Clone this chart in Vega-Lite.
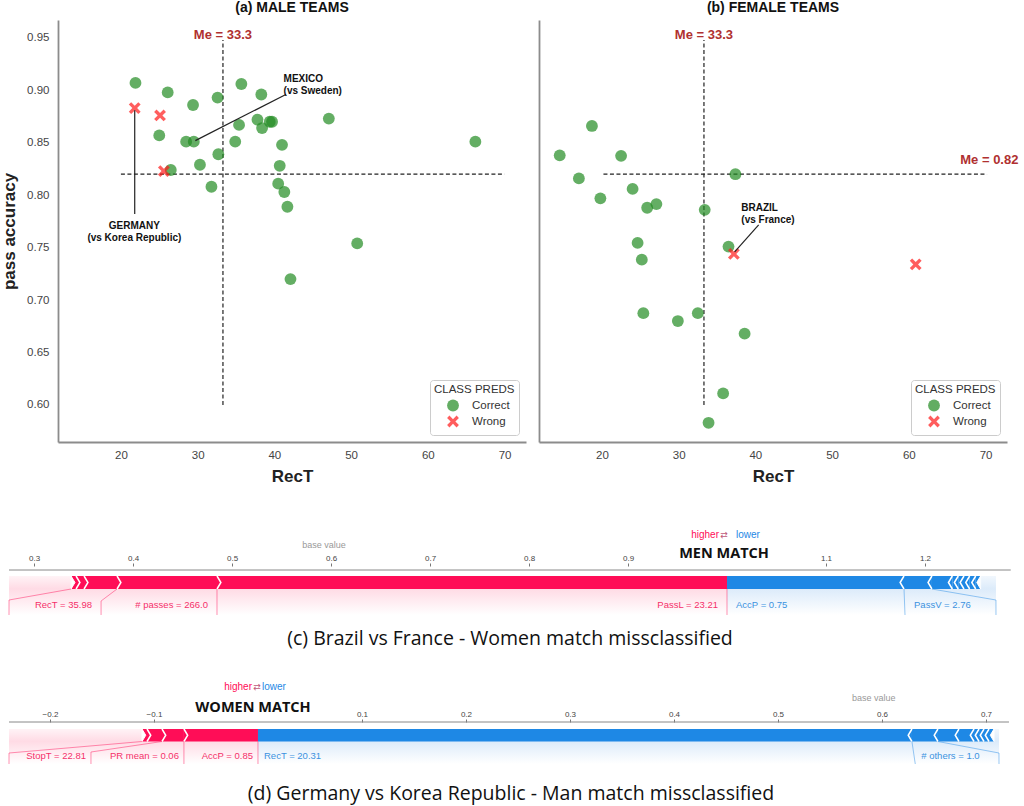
{
  "$schema": "https://vega.github.io/schema/vega-lite/v6.json",
  "padding": {"top": 1, "left": 0, "right": 0, "bottom": 0},
  "background": "white",
  "spacing": 0,
  "config": {"view": {"stroke": null}, "font": "Liberation Sans", "axis": {"grid": false}},
  "datasets": {
    "male": [
      {"RecT": 21.9, "acc": 0.907, "pred": "Correct"},
      {"RecT": 26.1, "acc": 0.898, "pred": "Correct"},
      {"RecT": 29.4, "acc": 0.886, "pred": "Correct"},
      {"RecT": 32.6, "acc": 0.893, "pred": "Correct"},
      {"RecT": 35.7, "acc": 0.906, "pred": "Correct"},
      {"RecT": 38.3, "acc": 0.896, "pred": "Correct"},
      {"RecT": 35.4, "acc": 0.867, "pred": "Correct"},
      {"RecT": 37.8, "acc": 0.872, "pred": "Correct"},
      {"RecT": 38.4, "acc": 0.864, "pred": "Correct"},
      {"RecT": 39.4, "acc": 0.870, "pred": "Correct"},
      {"RecT": 39.7, "acc": 0.870, "pred": "Correct"},
      {"RecT": 47.1, "acc": 0.873, "pred": "Correct"},
      {"RecT": 66.2, "acc": 0.851, "pred": "Correct"},
      {"RecT": 25.0, "acc": 0.857, "pred": "Correct"},
      {"RecT": 28.5, "acc": 0.851, "pred": "Correct"},
      {"RecT": 29.5, "acc": 0.851, "pred": "Correct"},
      {"RecT": 34.9, "acc": 0.851, "pred": "Correct"},
      {"RecT": 41.0, "acc": 0.848, "pred": "Correct"},
      {"RecT": 32.7, "acc": 0.839, "pred": "Correct"},
      {"RecT": 30.3, "acc": 0.829, "pred": "Correct"},
      {"RecT": 26.5, "acc": 0.824, "pred": "Correct"},
      {"RecT": 40.7, "acc": 0.828, "pred": "Correct"},
      {"RecT": 31.8, "acc": 0.808, "pred": "Correct"},
      {"RecT": 40.5, "acc": 0.811, "pred": "Correct"},
      {"RecT": 41.3, "acc": 0.803, "pred": "Correct"},
      {"RecT": 41.7, "acc": 0.789, "pred": "Correct"},
      {"RecT": 50.8, "acc": 0.754, "pred": "Correct"},
      {"RecT": 42.1, "acc": 0.720, "pred": "Correct"},
      {"RecT": 21.8, "acc": 0.883, "pred": "Wrong"},
      {"RecT": 25.1, "acc": 0.876, "pred": "Wrong"},
      {"RecT": 25.6, "acc": 0.823, "pred": "Wrong"}
    ],
    "female": [
      {"RecT": 18.7, "acc": 0.866, "pred": "Correct"},
      {"RecT": 14.5, "acc": 0.838, "pred": "Correct"},
      {"RecT": 22.5, "acc": 0.8375, "pred": "Correct"},
      {"RecT": 17.0, "acc": 0.816, "pred": "Correct"},
      {"RecT": 37.4, "acc": 0.820, "pred": "Correct"},
      {"RecT": 24.0, "acc": 0.806, "pred": "Correct"},
      {"RecT": 19.8, "acc": 0.797, "pred": "Correct"},
      {"RecT": 25.9, "acc": 0.788, "pred": "Correct"},
      {"RecT": 27.1, "acc": 0.7915, "pred": "Correct"},
      {"RecT": 33.4, "acc": 0.786, "pred": "Correct"},
      {"RecT": 24.65, "acc": 0.7545, "pred": "Correct"},
      {"RecT": 36.5, "acc": 0.751, "pred": "Correct"},
      {"RecT": 25.2, "acc": 0.7385, "pred": "Correct"},
      {"RecT": 25.4, "acc": 0.6875, "pred": "Correct"},
      {"RecT": 29.9, "acc": 0.680, "pred": "Correct"},
      {"RecT": 32.5, "acc": 0.6875, "pred": "Correct"},
      {"RecT": 38.6, "acc": 0.668, "pred": "Correct"},
      {"RecT": 35.8, "acc": 0.611, "pred": "Correct"},
      {"RecT": 33.9, "acc": 0.583, "pred": "Correct"},
      {"RecT": 37.2, "acc": 0.744, "pred": "Wrong"},
      {"RecT": 60.9, "acc": 0.734, "pred": "Wrong"}
    ],
    "cSeg": [
      {"a": 0.3374, "b": 0.3424, "side": "higher"},
      {"a": 0.3424, "b": 0.3505, "side": "higher"},
      {"a": 0.3505, "b": 0.3838, "side": "higher"},
      {"a": 0.3838, "b": 0.4848, "side": "higher"},
      {"a": 0.4848, "b": 1.0, "side": "higher"},
      {"a": 1.0, "b": 1.1788, "side": "lower"},
      {"a": 1.1788, "b": 1.207, "side": "lower"},
      {"a": 1.207, "b": 1.2276, "side": "lower"},
      {"a": 1.2276, "b": 1.2336, "side": "lower"},
      {"a": 1.2336, "b": 1.2394, "side": "lower"},
      {"a": 1.2394, "b": 1.2451, "side": "lower"},
      {"a": 1.2451, "b": 1.2512, "side": "lower"},
      {"a": 1.2512, "b": 1.2562, "side": "lower"}
    ],
    "cConn": [
      {"x": 0.3374, "y": 100, "x2": 0.2747, "y2": 111, "side": "higher"},
      {"x": 0.2747, "y": 111, "x2": 0.2747, "y2": 126, "side": "higher"},
      {"x": 0.3838, "y": 100, "x2": 0.3677, "y2": 112, "side": "higher"},
      {"x": 0.3677, "y": 112, "x2": 0.3677, "y2": 126, "side": "higher"},
      {"x": 0.4848, "y": 100, "x2": 0.4848, "y2": 126, "side": "higher"},
      {"x": 1.0, "y": 100, "x2": 1.0, "y2": 126, "side": "higher"},
      {"x": 1.1788, "y": 100, "x2": 1.1798, "y2": 126, "side": "lower"},
      {"x": 1.207, "y": 100, "x2": 1.2717, "y2": 111, "side": "lower"},
      {"x": 1.2717, "y": 111, "x2": 1.2717, "y2": 126, "side": "lower"}
    ],
    "cLab": [
      {"t": "RecT = 35.98", "v": 0.3677, "side": "higher"},
      {"t": "# passes = 266.0", "v": 0.4848, "side": "higher"},
      {"t": "PassL = 23.21", "v": 1.0, "side": "higher"},
      {"t": "AccP = 0.75", "v": 1.0, "side": "lower"},
      {"t": "PassV = 2.76", "v": 1.1798, "side": "lower"}
    ],
    "dSeg": [
      {"a": -0.1115, "b": -0.1067, "side": "higher"},
      {"a": -0.1067, "b": -0.0923, "side": "higher"},
      {"a": -0.0923, "b": -0.0712, "side": "higher"},
      {"a": -0.0712, "b": 0.0, "side": "higher"},
      {"a": 0.0, "b": 0.6288, "side": "lower"},
      {"a": 0.6288, "b": 0.6538, "side": "lower"},
      {"a": 0.6538, "b": 0.674, "side": "lower"},
      {"a": 0.674, "b": 0.6885, "side": "lower"},
      {"a": 0.6885, "b": 0.6933, "side": "lower"},
      {"a": 0.6933, "b": 0.6981, "side": "lower"},
      {"a": 0.6981, "b": 0.7029, "side": "lower"},
      {"a": 0.7029, "b": 0.7077, "side": "lower"}
    ],
    "dConn": [
      {"x": -0.1115, "y": 80.5, "x2": -0.2394, "y2": 92, "side": "higher"},
      {"x": -0.2394, "y": 92, "x2": -0.2394, "y2": 103, "side": "higher"},
      {"x": -0.0923, "y": 80.5, "x2": -0.1606, "y2": 91, "side": "higher"},
      {"x": -0.1606, "y": 91, "x2": -0.1606, "y2": 103, "side": "higher"},
      {"x": -0.0712, "y": 80.5, "x2": -0.0712, "y2": 103, "side": "higher"},
      {"x": 0.0, "y": 80.5, "x2": 0.0, "y2": 103, "side": "higher"},
      {"x": 0.6288, "y": 80.5, "x2": 0.632, "y2": 103, "side": "lower"},
      {"x": 0.6538, "y": 80.5, "x2": 0.7125, "y2": 92, "side": "lower"},
      {"x": 0.7125, "y": 92, "x2": 0.7125, "y2": 103, "side": "lower"}
    ],
    "dLab": [
      {"t": "StopT = 22.81", "v": -0.1606, "side": "higher"},
      {"t": "PR mean = 0.06", "v": -0.0712, "side": "higher"},
      {"t": "AccP = 0.85", "v": 0.0, "side": "higher"},
      {"t": "RecT = 20.31", "v": 0.0, "side": "lower"},
      {"t": "# others = 1.0", "v": 0.632, "side": "lower"}
    ]
  },
  "resolve": {"scale": {"x": "independent", "y": "independent", "color": "independent"}},
  "vconcat": [
    {
      "spacing": 13,
      "resolve": {
        "scale": {"x": "independent", "y": "independent", "color": "independent", "shape": "independent"},
        "legend": {"color": "independent", "shape": "independent"}
      },
      "hconcat": [
        {
          "width": 468,
          "height": 422,
          "title": {"text": "(a) MALE TEAMS", "fontSize": 14, "fontWeight": "bold", "offset": 5, "color": "#111"},
          "layer": [
            {
              "data": {"values": [{"m": 33.3, "lo": 0.6, "hi": 0.948}]},
              "mark": {"type": "rule", "strokeDash": [4, 2.5], "color": "#222", "strokeWidth": 1.2},
              "encoding": {
                "x": {"field": "m", "type": "quantitative", "title": "RecT"},
                "y": {"field": "lo", "type": "quantitative", "title": "pass accuracy"},
                "y2": {"field": "hi"}
              }
            },
            {
              "data": {"values": [{"m": 0.82, "lo": 20, "hi": 70}]},
              "mark": {"type": "rule", "strokeDash": [4, 2.5], "color": "#222", "strokeWidth": 1.2},
              "encoding": {
                "y": {"field": "m", "type": "quantitative", "title": "pass accuracy"},
                "x": {"field": "lo", "type": "quantitative", "title": "RecT"},
                "x2": {"field": "hi"}
              }
            },
            {
              "data": {"name": "male"},
              "mark": {"type": "point", "filled": true, "opacity": 0.7, "size": 140},
              "encoding": {
                "x": {"field": "RecT", "type": "quantitative", "title": "RecT",
                  "scale": {"domain": [11.8, 72.8], "nice": false, "zero": false},
                  "axis": {"values": [20, 30, 40, 50, 60, 70], "ticks": false, "labelPadding": 7, "labelFontSize": 11.5, "labelColor": "#444", "domainColor": "#8c8c8c", "domainWidth": 1.8, "titleFontSize": 17, "titleFontWeight": "bold", "titleColor": "#222", "titlePadding": 8, "grid": false}},
                "y": {"field": "acc", "type": "quantitative", "title": "pass accuracy",
                  "scale": {"domain": [0.5647, 0.967], "nice": false, "zero": false},
                  "axis": {"values": [0.6, 0.65, 0.7, 0.75, 0.8, 0.85, 0.9, 0.95], "format": ".2f", "ticks": false, "labelPadding": 9, "labelFontSize": 11.5, "labelColor": "#444", "domainColor": "#8c8c8c", "domainWidth": 1.8, "titleFontSize": 17, "titleFontWeight": "bold", "titleColor": "#222", "titlePadding": 8, "minExtent": 32, "maxExtent": 32, "grid": false}},
                "color": {"field": "pred", "type": "nominal", "title": "CLASS PREDS",
                  "scale": {"domain": ["Correct", "Wrong"], "range": ["#228b22", "#ff1a1a"]},
                  "legend": {"orient": "bottom-right", "offset": 7, "padding": 4, "strokeColor": "#cccccc", "fillColor": "white", "cornerRadius": 3, "titleFontWeight": "normal", "titleFontSize": 11.5, "titleColor": "#333", "labelFontSize": 11.5, "labelColor": "#333", "symbolSize": 140, "symbolOffset": 12, "labelOffset": 12, "rowPadding": -2, "titlePadding": 3, "symbolOpacity": 0.7}},
                "shape": {"field": "pred", "type": "nominal", "title": "CLASS PREDS",
                  "scale": {"domain": ["Correct", "Wrong"], "range": ["circle", "M-1,-0.6L-0.6,-1L0,-0.4L0.6,-1L1,-0.6L0.4,0L1,0.6L0.6,1L0,0.4L-0.6,1L-1,0.6L-0.4,0Z"]},
                  "legend": {"orient": "bottom-right", "offset": 7, "padding": 4, "strokeColor": "#cccccc", "fillColor": "white", "cornerRadius": 3, "titleFontWeight": "normal", "titleFontSize": 11.5, "titleColor": "#333", "labelFontSize": 11.5, "labelColor": "#333", "symbolSize": 140, "symbolOffset": 12, "labelOffset": 12, "rowPadding": -2, "titlePadding": 3, "symbolOpacity": 0.7}}
              }
            },
            {
              "data": {"values": [{"t": "Me = 33.3", "x": 33.3, "y": 0.953}]},
              "mark": {"type": "text", "fontSize": 13, "fontWeight": "bold", "color": "#b03030", "baseline": "middle"},
              "encoding": {
                "x": {"field": "x", "type": "quantitative", "title": "RecT"},
                "y": {"field": "y", "type": "quantitative", "title": "pass accuracy"},
                "text": {"field": "t"}
              }
            },
            {
              "data": {"values": [{"x": 41.5, "y": 0.896, "x2": 29.7, "y2": 0.852}, {"x": 21.8, "y": 0.782, "x2": 21.8, "y2": 0.881}]},
              "mark": {"type": "rule", "color": "#222", "strokeWidth": 1.2},
              "encoding": {
                "x": {"field": "x", "type": "quantitative", "title": "RecT"},
                "y": {"field": "y", "type": "quantitative", "title": "pass accuracy"},
                "x2": {"field": "x2"},
                "y2": {"field": "y2"}
              }
            },
            {
              "data": {"values": [{"t": "MEXICO\n(vs Sweden)", "x": 41.2, "y": 0.9106}]},
              "mark": {"type": "text", "fontSize": 10, "fontWeight": "bold", "color": "#111", "align": "left", "baseline": "middle", "lineBreak": "\n", "lineHeight": 12},
              "encoding": {
                "x": {"field": "x", "type": "quantitative", "title": "RecT"},
                "y": {"field": "y", "type": "quantitative", "title": "pass accuracy"},
                "text": {"field": "t"}
              }
            },
            {
              "data": {"values": [{"t": "GERMANY\n(vs Korea Republic)", "x": 21.75, "y": 0.7706}]},
              "mark": {"type": "text", "fontSize": 10, "fontWeight": "bold", "color": "#111", "align": "center", "baseline": "middle", "lineBreak": "\n", "lineHeight": 12},
              "encoding": {
                "x": {"field": "x", "type": "quantitative", "title": "RecT"},
                "y": {"field": "y", "type": "quantitative", "title": "pass accuracy"},
                "text": {"field": "t"}
              }
            }
          ]
        },
        {
          "width": 468,
          "height": 422,
          "title": {"text": "(b) FEMALE TEAMS", "fontSize": 14, "fontWeight": "bold", "offset": 5, "color": "#111"},
          "layer": [
            {
              "data": {"values": [{"m": 33.3, "lo": 0.6, "hi": 0.948}]},
              "mark": {"type": "rule", "strokeDash": [4, 2.5], "color": "#222", "strokeWidth": 1.2},
              "encoding": {
                "x": {"field": "m", "type": "quantitative", "title": "RecT"},
                "y": {"field": "lo", "type": "quantitative", "title": null},
                "y2": {"field": "hi"}
              }
            },
            {
              "data": {"values": [{"m": 0.82, "lo": 20.2, "hi": 70.2}]},
              "mark": {"type": "rule", "strokeDash": [4, 2.5], "color": "#222", "strokeWidth": 1.2},
              "encoding": {
                "y": {"field": "m", "type": "quantitative", "title": null},
                "x": {"field": "lo", "type": "quantitative", "title": "RecT"},
                "x2": {"field": "hi"}
              }
            },
            {
              "data": {"name": "female"},
              "mark": {"type": "point", "filled": true, "opacity": 0.7, "size": 140},
              "encoding": {
                "x": {"field": "RecT", "type": "quantitative", "title": "RecT",
                  "scale": {"domain": [11.8, 72.8], "nice": false, "zero": false},
                  "axis": {"values": [20, 30, 40, 50, 60, 70], "ticks": false, "labelPadding": 7, "labelFontSize": 11.5, "labelColor": "#444", "domainColor": "#8c8c8c", "domainWidth": 1.8, "titleFontSize": 17, "titleFontWeight": "bold", "titleColor": "#222", "titlePadding": 8, "grid": false}},
                "y": {"field": "acc", "type": "quantitative", "title": null,
                  "scale": {"domain": [0.5647, 0.967], "nice": false, "zero": false},
                  "axis": {"labels": false, "ticks": false, "title": null, "domainColor": "#8c8c8c", "domainWidth": 1.8, "minExtent": 0, "maxExtent": 0, "grid": false}},
                "color": {"field": "pred", "type": "nominal", "title": "CLASS PREDS",
                  "scale": {"domain": ["Correct", "Wrong"], "range": ["#228b22", "#ff1a1a"]},
                  "legend": {"orient": "bottom-right", "offset": 7, "padding": 4, "strokeColor": "#cccccc", "fillColor": "white", "cornerRadius": 3, "titleFontWeight": "normal", "titleFontSize": 11.5, "titleColor": "#333", "labelFontSize": 11.5, "labelColor": "#333", "symbolSize": 140, "symbolOffset": 12, "labelOffset": 12, "rowPadding": -2, "titlePadding": 3, "symbolOpacity": 0.7}},
                "shape": {"field": "pred", "type": "nominal", "title": "CLASS PREDS",
                  "scale": {"domain": ["Correct", "Wrong"], "range": ["circle", "M-1,-0.6L-0.6,-1L0,-0.4L0.6,-1L1,-0.6L0.4,0L1,0.6L0.6,1L0,0.4L-0.6,1L-1,0.6L-0.4,0Z"]},
                  "legend": {"orient": "bottom-right", "offset": 7, "padding": 4, "strokeColor": "#cccccc", "fillColor": "white", "cornerRadius": 3, "titleFontWeight": "normal", "titleFontSize": 11.5, "titleColor": "#333", "labelFontSize": 11.5, "labelColor": "#333", "symbolSize": 140, "symbolOffset": 12, "labelOffset": 12, "rowPadding": -2, "titlePadding": 3, "symbolOpacity": 0.7}}
              }
            },
            {
              "data": {"values": [{"t": "Me = 33.3", "x": 33.3, "y": 0.953}, {"t": "Me = 0.82", "x": 70.5, "y": 0.834}]},
              "mark": {"type": "text", "fontSize": 13, "fontWeight": "bold", "color": "#b03030", "baseline": "middle"},
              "encoding": {
                "x": {"field": "x", "type": "quantitative", "title": "RecT"},
                "y": {"field": "y", "type": "quantitative", "title": null},
                "text": {"field": "t"}
              }
            },
            {
              "data": {"values": [{"x": 40.43, "y": 0.7717, "x2": 37.3, "y2": 0.746}]},
              "mark": {"type": "rule", "color": "#222", "strokeWidth": 1.2},
              "encoding": {
                "x": {"field": "x", "type": "quantitative", "title": "RecT"},
                "y": {"field": "y", "type": "quantitative", "title": null},
                "x2": {"field": "x2"},
                "y2": {"field": "y2"}
              }
            },
            {
              "data": {"values": [{"t": "BRAZIL\n(vs France)", "x": 38.17, "y": 0.7875}]},
              "mark": {"type": "text", "fontSize": 10, "fontWeight": "bold", "color": "#111", "align": "left", "baseline": "middle", "lineBreak": "\n", "lineHeight": 12},
              "encoding": {
                "x": {"field": "x", "type": "quantitative", "title": "RecT"},
                "y": {"field": "y", "type": "quantitative", "title": null},
                "text": {"field": "t"}
              }
            }
          ]
        }
      ]
    },
    {
      "width": 965,
      "height": 176,
      "layer": [
        {
          "data": {"values": [{"a": 0.2747, "b": 1.0}]},
          "mark": {"type": "rect", "color": {"gradient": "linear", "x1": 0, "y1": 0, "x2": 0, "y2": 1, "stops": [{"offset": 0, "color": "#fff3f6"}, {"offset": 0.33, "color": "#ffdbe5"}, {"offset": 1, "color": "#ffffff"}]}},
          "encoding": {
            "x": {"field": "a", "type": "quantitative", "title": null},
            "x2": {"field": "b"},
            "y": {"datum": 87, "type": "quantitative", "axis": null},
            "y2": {"datum": 126}
          }
        },
        {
          "data": {"values": [{"a": 1.0, "b": 1.2717}]},
          "mark": {"type": "rect", "color": {"gradient": "linear", "x1": 0, "y1": 0, "x2": 0, "y2": 1, "stops": [{"offset": 0, "color": "#f1f7fd"}, {"offset": 0.33, "color": "#dcebfa"}, {"offset": 1, "color": "#ffffff"}]}},
          "encoding": {
            "x": {"field": "a", "type": "quantitative", "title": null},
            "x2": {"field": "b"},
            "y": {"datum": 87, "type": "quantitative", "axis": null},
            "y2": {"datum": 126}
          }
        },
        {
          "data": {"values": [{"a": 0.2747, "b": 1.2866}]},
          "mark": {"type": "rule", "color": "#888", "strokeWidth": 1},
          "encoding": {
            "x": {"field": "a", "type": "quantitative", "title": null},
            "x2": {"field": "b"},
            "y": {"datum": 81, "type": "quantitative", "axis": null}
          }
        },
        {
          "data": {"name": "cSeg"},
          "mark": {"type": "rect"},
          "encoding": {
            "x": {"field": "a", "type": "quantitative", "title": null,
              "scale": {"domain": [0.2747, 1.29899], "range": [-49, 965], "nice": false, "zero": false},
              "axis": {"orient": "top", "offset": -81, "values": [0.3, 0.4, 0.5, 0.6, 0.7, 0.8, 0.9, 1.1, 1.2], "format": ".1f", "domain": false, "ticks": true, "tickSize": 3, "tickColor": "#777", "labelFontSize": 8, "labelColor": "#444", "labelPadding": 1, "title": null, "grid": false}},
            "x2": {"field": "b"},
            "y": {"datum": 87, "type": "quantitative", "scale": {"domain": [-4, 172], "reverse": true, "nice": false, "zero": false}, "axis": null},
            "y2": {"datum": 100},
            "color": {"field": "side", "type": "nominal", "scale": {"domain": ["higher", "lower"], "range": ["#ff0d57", "#1e88e5"]}, "legend": null}
          }
        },
        {
          "data": {"values": [{"v": 0.3374}]},
          "mark": {"type": "point", "shape": "M0,-1L0.6,0L0,1Z", "filled": true, "color": "white", "opacity": 1, "size": 169, "stroke": "white", "strokeWidth": 1},
          "encoding": {
            "x": {"field": "v", "type": "quantitative", "title": null},
            "y": {"datum": 93.5, "type": "quantitative", "axis": null}
          }
        },
        {
          "data": {"values": [{"v": 1.2562}]},
          "mark": {"type": "point", "shape": "M0,-1L-0.6,0L0,1Z", "filled": true, "color": "white", "opacity": 1, "size": 169, "stroke": "white", "strokeWidth": 1},
          "encoding": {
            "x": {"field": "v", "type": "quantitative", "title": null},
            "y": {"datum": 93.5, "type": "quantitative", "axis": null}
          }
        },
        {
          "data": {"values": [{"v": 0.3424}, {"v": 0.3505}, {"v": 0.3838}, {"v": 0.4848}]},
          "mark": {"type": "point", "shape": "M0,-1L0.6,0L0,1", "filled": false, "color": "white", "opacity": 1, "size": 169, "strokeWidth": 1.5},
          "encoding": {
            "x": {"field": "v", "type": "quantitative", "title": null},
            "y": {"datum": 93.5, "type": "quantitative", "axis": null}
          }
        },
        {
          "data": {"values": [{"v": 1.1788}, {"v": 1.207}, {"v": 1.2276}, {"v": 1.2336}, {"v": 1.2394}, {"v": 1.2451}, {"v": 1.2512}]},
          "mark": {"type": "point", "shape": "M0,-1L-0.6,0L0,1", "filled": false, "color": "white", "opacity": 1, "size": 169, "strokeWidth": 1.5},
          "encoding": {
            "x": {"field": "v", "type": "quantitative", "title": null},
            "y": {"datum": 93.5, "type": "quantitative", "axis": null}
          }
        },
        {
          "data": {"name": "cConn"},
          "mark": {"type": "rule", "strokeWidth": 1, "opacity": 0.45},
          "encoding": {
            "x": {"field": "x", "type": "quantitative", "title": null},
            "x2": {"field": "x2"},
            "y": {"field": "y", "type": "quantitative", "axis": null},
            "y2": {"field": "y2"},
            "color": {"field": "side", "type": "nominal", "legend": null}
          }
        },
        {
          "data": {"name": "cLab"},
          "transform": [{"filter": "datum.side == 'higher'"}],
          "mark": {"type": "text", "align": "right", "baseline": "middle", "dx": -9, "fontSize": 9.5, "color": "#f5306a"},
          "encoding": {
            "x": {"field": "v", "type": "quantitative", "title": null},
            "y": {"datum": 116, "type": "quantitative", "axis": null},
            "text": {"field": "t"}
          }
        },
        {
          "data": {"name": "cLab"},
          "transform": [{"filter": "datum.side == 'lower'"}],
          "mark": {"type": "text", "align": "left", "baseline": "middle", "dx": 9, "fontSize": 9.5, "color": "#3b92e0"},
          "encoding": {
            "x": {"field": "v", "type": "quantitative", "title": null},
            "y": {"datum": 116, "type": "quantitative", "axis": null},
            "text": {"field": "t"}
          }
        },
        {
          "data": {"values": [{"t": "base value", "v": 0.593}]},
          "mark": {"type": "text", "align": "center", "baseline": "middle", "fontSize": 9, "color": "#999"},
          "encoding": {
            "x": {"field": "v", "type": "quantitative", "title": null},
            "y": {"datum": 56, "type": "quantitative", "axis": null},
            "text": {"field": "t"}
          }
        },
        {
          "data": {"values": [{"t": "higher", "v": 1.0}]},
          "mark": {"type": "text", "align": "right", "baseline": "middle", "dx": -8, "fontSize": 10, "color": "#ff0d57"},
          "encoding": {
            "x": {"field": "v", "type": "quantitative", "title": null},
            "y": {"datum": 46, "type": "quantitative", "axis": null},
            "text": {"field": "t"}
          }
        },
        {
          "data": {"values": [{"t": "⇄", "v": 1.0}]},
          "mark": {"type": "text", "align": "center", "baseline": "middle", "dx": -3, "fontSize": 9, "font": "DejaVu Sans", "color": "#c0587a"},
          "encoding": {
            "x": {"field": "v", "type": "quantitative", "title": null},
            "y": {"datum": 46, "type": "quantitative", "axis": null},
            "text": {"field": "t"}
          }
        },
        {
          "data": {"values": [{"t": "lower", "v": 1.0}]},
          "mark": {"type": "text", "align": "left", "baseline": "middle", "dx": 9, "fontSize": 10, "color": "#1e88e5"},
          "encoding": {
            "x": {"field": "v", "type": "quantitative", "title": null},
            "y": {"datum": 46, "type": "quantitative", "axis": null},
            "text": {"field": "t"}
          }
        },
        {
          "data": {"values": [{"t": "MEN MATCH", "v": 0.997}]},
          "mark": {"type": "text", "align": "center", "baseline": "middle", "fontSize": 14.5, "fontWeight": "bold", "font": "Open Sans", "color": "#111"},
          "encoding": {
            "x": {"field": "v", "type": "quantitative", "title": null},
            "y": {"datum": 65, "type": "quantitative", "axis": null},
            "text": {"field": "t"}
          }
        },
        {
          "data": {"values": [{"t": "(c) Brazil vs France - Women match missclassified", "v": 0.7808}]},
          "mark": {"type": "text", "align": "center", "baseline": "middle", "fontSize": 19.5, "font": "Open Sans", "color": "#111"},
          "encoding": {
            "x": {"field": "v", "type": "quantitative", "title": null},
            "y": {"datum": 150, "type": "quantitative", "axis": null},
            "text": {"field": "t"}
          }
        }
      ]
    },
    {
      "width": 965,
      "height": 146,
      "layer": [
        {
          "data": {"values": [{"a": -0.2394, "b": 0.0}]},
          "mark": {"type": "rect", "color": {"gradient": "linear", "x1": 0, "y1": 0, "x2": 0, "y2": 1, "stops": [{"offset": 0, "color": "#fff3f6"}, {"offset": 0.35, "color": "#ffdbe5"}, {"offset": 1, "color": "#ffffff"}]}},
          "encoding": {
            "x": {"field": "a", "type": "quantitative", "title": null},
            "x2": {"field": "b"},
            "y": {"datum": 68, "type": "quantitative", "axis": null},
            "y2": {"datum": 103}
          }
        },
        {
          "data": {"values": [{"a": 0.0, "b": 0.7125}]},
          "mark": {"type": "rect", "color": {"gradient": "linear", "x1": 0, "y1": 0, "x2": 0, "y2": 1, "stops": [{"offset": 0, "color": "#f1f7fd"}, {"offset": 0.35, "color": "#dcebfa"}, {"offset": 1, "color": "#ffffff"}]}},
          "encoding": {
            "x": {"field": "a", "type": "quantitative", "title": null},
            "x2": {"field": "b"},
            "y": {"datum": 68, "type": "quantitative", "axis": null},
            "y2": {"datum": 103}
          }
        },
        {
          "data": {"values": [{"a": -0.2394, "b": 0.7221}]},
          "mark": {"type": "rule", "color": "#888", "strokeWidth": 1},
          "encoding": {
            "x": {"field": "a", "type": "quantitative", "title": null},
            "x2": {"field": "b"},
            "y": {"datum": 61, "type": "quantitative", "axis": null}
          }
        },
        {
          "data": {"name": "dSeg"},
          "mark": {"type": "rect"},
          "encoding": {
            "x": {"field": "a", "type": "quantitative", "title": null,
              "scale": {"domain": [-0.2394, 0.73558], "range": [-49, 965], "nice": false, "zero": false},
              "axis": {"orient": "top", "offset": -61, "values": [-0.2, -0.1, 0.1, 0.2, 0.3, 0.4, 0.5, 0.6, 0.7], "format": ".1f", "domain": false, "ticks": true, "tickSize": 3, "tickColor": "#777", "labelFontSize": 8, "labelColor": "#444", "labelPadding": 1, "title": null, "grid": false}},
            "x2": {"field": "b"},
            "y": {"datum": 68, "type": "quantitative", "scale": {"domain": [0, 146], "reverse": true, "nice": false, "zero": false}, "axis": null},
            "y2": {"datum": 80.5},
            "color": {"field": "side", "type": "nominal", "scale": {"domain": ["higher", "lower"], "range": ["#ff0d57", "#1e88e5"]}, "legend": null}
          }
        },
        {
          "data": {"values": [{"v": -0.1115}]},
          "mark": {"type": "point", "shape": "M0,-1L0.6,0L0,1Z", "filled": true, "color": "white", "opacity": 1, "size": 156, "stroke": "white", "strokeWidth": 1},
          "encoding": {
            "x": {"field": "v", "type": "quantitative", "title": null},
            "y": {"datum": 74.25, "type": "quantitative", "axis": null}
          }
        },
        {
          "data": {"values": [{"v": 0.7077}]},
          "mark": {"type": "point", "shape": "M0,-1L-0.6,0L0,1Z", "filled": true, "color": "white", "opacity": 1, "size": 156, "stroke": "white", "strokeWidth": 1},
          "encoding": {
            "x": {"field": "v", "type": "quantitative", "title": null},
            "y": {"datum": 74.25, "type": "quantitative", "axis": null}
          }
        },
        {
          "data": {"values": [{"v": -0.1067}, {"v": -0.0923}, {"v": -0.0712}]},
          "mark": {"type": "point", "shape": "M0,-1L0.6,0L0,1", "filled": false, "color": "white", "opacity": 1, "size": 156, "strokeWidth": 1.5},
          "encoding": {
            "x": {"field": "v", "type": "quantitative", "title": null},
            "y": {"datum": 74.25, "type": "quantitative", "axis": null}
          }
        },
        {
          "data": {"values": [{"v": 0.6288}, {"v": 0.6538}, {"v": 0.674}, {"v": 0.6885}, {"v": 0.6933}, {"v": 0.6981}, {"v": 0.7029}]},
          "mark": {"type": "point", "shape": "M0,-1L-0.6,0L0,1", "filled": false, "color": "white", "opacity": 1, "size": 156, "strokeWidth": 1.5},
          "encoding": {
            "x": {"field": "v", "type": "quantitative", "title": null},
            "y": {"datum": 74.25, "type": "quantitative", "axis": null}
          }
        },
        {
          "data": {"name": "dConn"},
          "mark": {"type": "rule", "strokeWidth": 1, "opacity": 0.45},
          "encoding": {
            "x": {"field": "x", "type": "quantitative", "title": null},
            "x2": {"field": "x2"},
            "y": {"field": "y", "type": "quantitative", "axis": null},
            "y2": {"field": "y2"},
            "color": {"field": "side", "type": "nominal", "legend": null}
          }
        },
        {
          "data": {"name": "dLab"},
          "transform": [{"filter": "datum.side == 'higher'"}],
          "mark": {"type": "text", "align": "right", "baseline": "middle", "dx": -5, "fontSize": 9.5, "color": "#f5306a"},
          "encoding": {
            "x": {"field": "v", "type": "quantitative", "title": null},
            "y": {"datum": 95, "type": "quantitative", "axis": null},
            "text": {"field": "t"}
          }
        },
        {
          "data": {"name": "dLab"},
          "transform": [{"filter": "datum.side == 'lower'"}],
          "mark": {"type": "text", "align": "left", "baseline": "middle", "dx": 6, "fontSize": 9.5, "color": "#3b92e0"},
          "encoding": {
            "x": {"field": "v", "type": "quantitative", "title": null},
            "y": {"datum": 95, "type": "quantitative", "axis": null},
            "text": {"field": "t"}
          }
        },
        {
          "data": {"values": [{"t": "base value", "v": 0.592}]},
          "mark": {"type": "text", "align": "center", "baseline": "middle", "fontSize": 9, "color": "#999"},
          "encoding": {
            "x": {"field": "v", "type": "quantitative", "title": null},
            "y": {"datum": 37, "type": "quantitative", "axis": null},
            "text": {"field": "t"}
          }
        },
        {
          "data": {"values": [{"t": "higher", "v": 0.0}]},
          "mark": {"type": "text", "align": "right", "baseline": "middle", "dx": -6, "fontSize": 10, "color": "#ff0d57"},
          "encoding": {
            "x": {"field": "v", "type": "quantitative", "title": null},
            "y": {"datum": 26, "type": "quantitative", "axis": null},
            "text": {"field": "t"}
          }
        },
        {
          "data": {"values": [{"t": "⇄", "v": 0.0}]},
          "mark": {"type": "text", "align": "center", "baseline": "middle", "dx": -1, "fontSize": 9, "font": "DejaVu Sans", "color": "#c0587a"},
          "encoding": {
            "x": {"field": "v", "type": "quantitative", "title": null},
            "y": {"datum": 26, "type": "quantitative", "axis": null},
            "text": {"field": "t"}
          }
        },
        {
          "data": {"values": [{"t": "lower", "v": 0.0}]},
          "mark": {"type": "text", "align": "left", "baseline": "middle", "dx": 4, "fontSize": 10, "color": "#1e88e5"},
          "encoding": {
            "x": {"field": "v", "type": "quantitative", "title": null},
            "y": {"datum": 26, "type": "quantitative", "axis": null},
            "text": {"field": "t"}
          }
        },
        {
          "data": {"values": [{"t": "WOMEN MATCH", "v": -0.0048}]},
          "mark": {"type": "text", "align": "center", "baseline": "middle", "fontSize": 14.5, "fontWeight": "bold", "font": "Open Sans", "color": "#111"},
          "encoding": {
            "x": {"field": "v", "type": "quantitative", "title": null},
            "y": {"datum": 47, "type": "quantitative", "axis": null},
            "text": {"field": "t"}
          }
        },
        {
          "data": {"values": [{"t": "(d) Germany vs Korea Republic - Man match missclassified", "v": 0.2433}]},
          "mark": {"type": "text", "align": "center", "baseline": "middle", "fontSize": 19.5, "font": "Open Sans", "color": "#111"},
          "encoding": {
            "x": {"field": "v", "type": "quantitative", "title": null},
            "y": {"datum": 133, "type": "quantitative", "axis": null},
            "text": {"field": "t"}
          }
        }
      ]
    }
  ]
}
